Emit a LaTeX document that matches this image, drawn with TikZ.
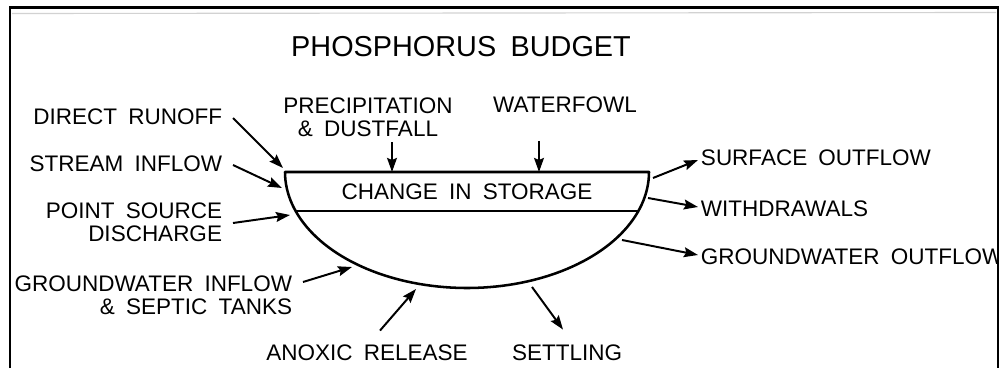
\documentclass[tikz,border=0pt]{standalone}
\usepackage{fontspec}
\setmainfont{Liberation Sans}[WordSpace=1.8]
\usetikzlibrary{arrows.meta}

\begin{document}
\begin{tikzpicture}[x=0.025cm, y=-0.025cm, line width=1.4pt,
    lbl/.style = {inner sep=0pt, font=\fontsize{16}{16.4}\selectfont},
    flow/.style = {-{Stealth[length=10pt, width=7pt, inset=1.5pt]}, line width=1.4pt}]
    \useasboundingbox (0,0) rectangle (1005,368);

    \begin{scope}
    \clip (0,0) rectangle (997,368);
    \node[inner sep=0pt, font=\fontsize{20.5}{22}\selectfont] (title) at (461,47) {PHOSPHORUS BUDGET};

    % the lake
    \draw[line width=1.8pt, line join=round] (285,172) -- (649,172)
        -- plot[domain=0:180, samples=90] ({467+182*cos(\x)}, {172+116*sin(\x)}) -- cycle;
    \draw[line width=1.8pt] (295.6,211) -- (638.4,211);
    \node[lbl] (store) at (467,191.5) {CHANGE IN STORAGE};

    % inputs
    \node[lbl, anchor=east] (runoff) at (223,117) {DIRECT RUNOFF};
    \node[lbl, anchor=east] (stream) at (223,163.5) {STREAM INFLOW};
    \node[lbl, anchor=east, align=right] (point) at (223,222) {POINT SOURCE\\DISCHARGE};
    \node[lbl, anchor=east, align=right] (gwin) at (293,295) {GROUNDWATER INFLOW\\\& SEPTIC TANKS};
    \node[lbl, align=center] (precip) at (368,117) {PRECIPITATION\\\& DUSTFALL};
    \node[lbl] (fowl) at (565,105) {WATERFOWL};
    \node[lbl] (anoxic) at (367,352.5) {ANOXIC RELEASE};

    % outputs
    \node[lbl, anchor=west] (surf) at (700,157.5) {SURFACE OUTFLOW};
    \node[lbl, anchor=west] (withdr) at (700,208.5) {WITHDRAWALS};
    \node[lbl, anchor=west] (gwout) at (700,256.5) {GROUNDWATER OUTFLOW};
    \node[lbl] (settle) at (567,352.5) {SETTLING};

    \coordinate (runoff_in) at (283,168);
    \coordinate (stream_in) at (282,188);
    \coordinate (point_in) at (290,215);
    \coordinate (gwin_in) at (352,267);
    \coordinate (anoxic_in) at (416,289);
    \coordinate (precip_in) at (392,172);
    \coordinate (fowl_in) at (539,172);
    \coordinate (surf_out) at (653,178);
    \coordinate (withdr_out) at (648,198);
    \coordinate (gwout_out) at (622,240);
    \coordinate (settle_out) at (532,287);

    \draw[flow] ([shift={(10,1)}]runoff.east) -- (runoff_in);
    \draw[flow] ([shift={(10,1.5)}]stream.east) -- (stream_in);
    \draw[flow] ([shift={(10,1)}]point.east) -- (point_in);
    \draw[flow] ([shift={(10,-13)}]gwin.east) -- (gwin_in);
    \draw[flow] ([shift={(13,-13)}]anoxic.north) -- (anoxic_in);
    \draw[flow] ([shift={(24,5)}]precip.south) -- (precip_in);
    \draw[flow] ([shift={(-26,27)}]fowl.south) -- (fowl_in);

    \draw[flow] (surf_out) -- ([shift={(-2,2.5)}]surf.west);
    \draw[flow] (withdr_out) -- ([shift={(-2,-1.5)}]withdr.west);
    \draw[flow] (gwout_out) -- ([shift={(-2,-1.5)}]gwout.west);
    \draw[flow] (settle_out) -- ([shift={(-4,-14)}]settle.north);
    \end{scope}

    % frame
    \draw[gray!35, line width=0.8pt] (12,13.5) -- (996,12.5);
    \draw[line width=2pt] (10,368) -- (10,7.5) -- (998,7.5) -- (998,368);
\end{tikzpicture}
\end{document}
